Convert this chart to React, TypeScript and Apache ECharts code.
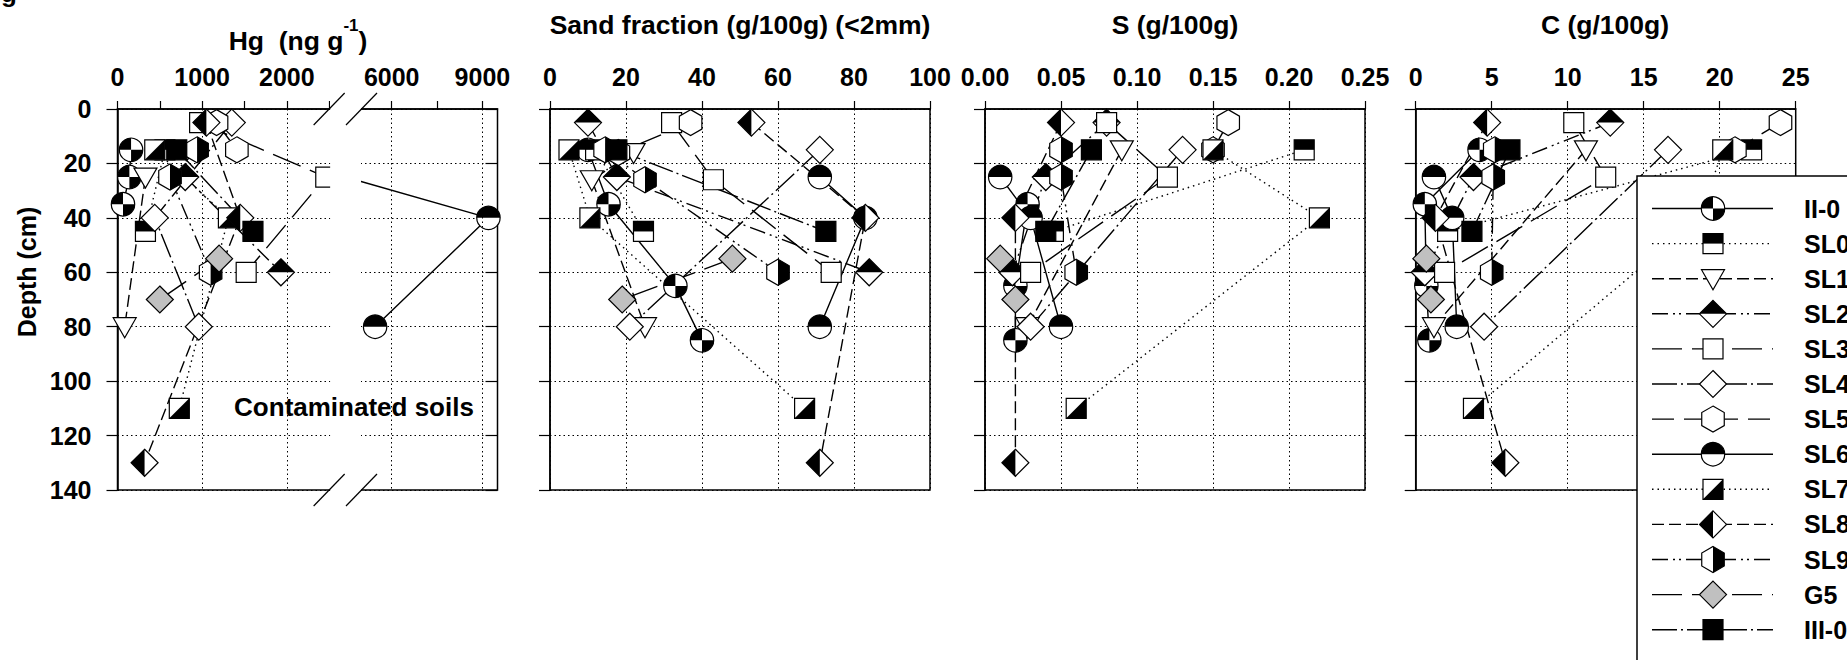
import React, { useEffect, useRef } from "react";
import * as echarts from "echarts";

// ---------------- data ----------------
const seriesNames = ["II-0", "SL0", "SL1", "SL2", "SL3", "SL4", "SL5", "SL6", "SL7", "SL8", "SL9", "G5", "III-0"];

const depthTicks = [0, 20, 40, 60, 80, 100, 120, 140];
const hgTickValues = [0, 500, 1000, 1500, 2000, 2500, 6000, 7500, 9000];
const hgLabelValues = [0, 1000, 2000, 6000, 9000];
const hgGridValues = [1000, 2000, 6000, 9000];

// [value, depth(cm)]
const hgData: Record<string, number[][]> = {
  "II-0": [[160, 15], [140, 25], [65, 35]],
  SL0: [[560, 15], [330, 45]],
  SL1: [[330, 25], [85, 80]],
  SL2: [[800, 25], [1930, 60]],
  SL3: [[970, 5], [2460, 25], [1520, 60]],
  SL4: [[1350, 5], [440, 40], [960, 80]],
  SL5: [[1170, 5], [1410, 15]],
  SL6: [[3750, 25], [9200, 40], [5450, 80]],
  SL7: [[440, 15], [1310, 40], [730, 110]],
  SL8: [[1050, 5], [1450, 40], [320, 130]],
  SL9: [[940, 15], [620, 25], [1100, 60]],
  G5: [[1200, 55], [500, 70]],
  "III-0": [[700, 15], [1600, 45]],
};

const sandData: Record<string, number[][]> = {
  "II-0": [[10, 15], [15.4, 35], [33, 65], [40, 85]],
  SL0: [[12, 15], [24.6, 45]],
  SL1: [[22, 16], [11, 26], [25, 80]],
  SL2: [[10, 5], [17.6, 25], [84, 60]],
  SL3: [[32, 5], [43, 26], [74, 60]],
  SL4: [[71, 15], [21, 80]],
  SL5: [[37, 5], [18, 16]],
  SL6: [[71, 25], [83, 40], [71, 80]],
  SL7: [[5, 15], [10.5, 40], [67, 110]],
  SL8: [[53, 5], [83, 40], [71, 130]],
  SL9: [[14.5, 15], [25, 26], [60, 60]],
  G5: [[48, 55], [19, 70]],
  "III-0": [[17.6, 15], [72.6, 45]],
};

const sulfurData: Record<string, number[][]> = {
  "II-0": [[0.028, 35], [0.02, 65], [0.02, 85]],
  SL0: [[0.21, 15], [0.045, 45]],
  SL1: [[0.09, 15], [0.028, 80]],
  SL2: [[0.08, 5], [0.04, 25], [0.018, 60]],
  SL3: [[0.08, 5], [0.12, 25], [0.03, 60]],
  SL4: [[0.13, 15], [0.03, 80]],
  SL5: [[0.16, 5], [0.15, 15]],
  SL6: [[0.01, 25], [0.03, 40], [0.05, 80]],
  SL7: [[0.15, 15], [0.22, 40], [0.06, 110]],
  SL8: [[0.05, 5], [0.02, 40], [0.02, 130]],
  SL9: [[0.05, 15], [0.05, 25], [0.06, 60]],
  G5: [[0.01, 55], [0.02, 70]],
  "III-0": [[0.07, 15], [0.04, 45]],
};

const carbonData: Record<string, number[][]> = {
  "II-0": [[4.2, 15], [0.6, 35], [0.7, 65], [0.9, 85]],
  SL0: [[22.1, 15], [2.1, 45]],
  SL1: [[11.2, 15], [1.2, 80]],
  SL2: [[12.8, 5], [3.8, 25], [0.6, 60]],
  SL3: [[10.4, 5], [12.5, 25], [1.9, 60]],
  SL4: [[16.6, 15], [4.5, 80]],
  SL5: [[24, 5], [21, 15]],
  SL6: [[1.2, 25], [2.4, 40], [2.7, 80]],
  SL7: [[20.2, 15], [18.7, 40], [3.8, 110]],
  SL8: [[4.7, 5], [1.3, 40], [5.9, 130]],
  SL9: [[5.2, 15], [5.1, 25], [5, 60]],
  G5: [[0.7, 55], [1, 70]],
  "III-0": [[6.2, 15], [3.7, 45]],
};

// ---------------- styles ----------------
const FONT = '"Liberation Sans", Arial, Helvetica, sans-serif';
const seriesStyle: Record<string, { marker: string; dash: number[] | "solid" }> = {
  "II-0": { marker: "quarterCircle", dash: "solid" },
  SL0: { marker: "squareTop", dash: [1.5, 4] },
  SL1: { marker: "triangleDown", dash: [12, 5] },
  SL2: { marker: "diamondTop", dash: [16, 5, 2, 4, 2, 5] },
  SL3: { marker: "square", dash: [30, 10] },
  SL4: { marker: "diamond", dash: [25, 4, 2, 4] },
  SL5: { marker: "hexagon", dash: [22, 10] },
  SL6: { marker: "circleTop", dash: "solid" },
  SL7: { marker: "squareDiag", dash: [1.5, 4] },
  SL8: { marker: "diamondLeft", dash: [12, 5] },
  SL9: { marker: "hexRight", dash: [16, 5, 2, 4, 2, 5] },
  G5: { marker: "diamondGray", dash: [30, 10] },
  "III-0": { marker: "squareFill", dash: [25, 4, 2, 4] },
};

// broken Hg axis: 0-2500 linear, 2500-5000 hidden gap, 5000-9500 compressed
const HG_GAP = 382;
const HG_RATIO = 0.357;
function T(v: number): number {
  if (v <= 2500) return v;
  if (v <= 5000) return 2500 + ((v - 2500) / 2500) * HG_GAP;
  return 2500 + HG_GAP + (v - 5000) * HG_RATIO;
}
const HG_MAX = T(9500);

const panelLefts = [117.5, 550, 985, 1415.7];
const panelW = 380;
const gridTop = 109;
const gridH = 381;

function markerEls(kind: string, cx: number, cy: number): any[] {
  const K = "#000";
  const W = "#fff";
  const lw = 1.2;
  const filled = (type: string, shape: any, fill: string) => ({ type, shape, style: { fill, lineWidth: 0 } });
  const outline = (type: string, shape: any) => ({ type, shape, style: { fill: "transparent", stroke: K, lineWidth: lw } });
  const r = 11.7;
  const h = 10;
  const d = 13.5;
  const hx = 13;
  const sq = { x: cx - h, y: cy - h, width: 2 * h, height: 2 * h };
  const dia = [[cx, cy - d], [cx + d, cy], [cx, cy + d], [cx - d, cy]];
  const hexP = [0, 1, 2, 3, 4, 5].map((i) => {
    const a = ((-90 + 60 * i) * Math.PI) / 180;
    return [cx + hx * Math.cos(a), cy + hx * Math.sin(a)];
  });
  switch (kind) {
    case "quarterCircle":
      return [
        filled("circle", { cx, cy, r }, W),
        filled("sector", { cx, cy, r, r0: 0, startAngle: Math.PI, endAngle: Math.PI * 1.5, clockwise: true }, K),
        filled("sector", { cx, cy, r, r0: 0, startAngle: 0, endAngle: Math.PI * 0.5, clockwise: true }, K),
        outline("circle", { cx, cy, r }),
      ];
    case "circleTop":
      return [
        filled("circle", { cx, cy, r }, W),
        filled("sector", { cx, cy, r, r0: 0, startAngle: Math.PI, endAngle: Math.PI * 2, clockwise: true }, K),
        outline("circle", { cx, cy, r }),
      ];
    case "squareTop":
      return [filled("rect", sq, W), filled("rect", { x: cx - h, y: cy - h, width: 2 * h, height: h }, K), outline("rect", sq)];
    case "squareDiag":
      return [
        filled("rect", sq, W),
        filled("polygon", { points: [[cx + h, cy - h], [cx + h, cy + h], [cx - h, cy + h]] }, K),
        outline("rect", sq),
      ];
    case "square":
      return [filled("rect", sq, W), outline("rect", sq)];
    case "squareFill":
      return [filled("rect", sq, K), outline("rect", sq)];
    case "triangleDown": {
      const t = [[cx - 11.5, cy - 9], [cx + 11.5, cy - 9], [cx, cy + 11]];
      return [filled("polygon", { points: t }, W), outline("polygon", { points: t })];
    }
    case "diamond":
      return [filled("polygon", { points: dia }, W), outline("polygon", { points: dia })];
    case "diamondGray":
      return [filled("polygon", { points: dia }, "#c0c0c0"), outline("polygon", { points: dia })];
    case "diamondTop":
      return [
        filled("polygon", { points: dia }, W),
        filled("polygon", { points: [[cx - d, cy], [cx, cy - d], [cx + d, cy]] }, K),
        outline("polygon", { points: dia }),
      ];
    case "diamondLeft":
      return [
        filled("polygon", { points: dia }, W),
        filled("polygon", { points: [[cx, cy - d], [cx - d, cy], [cx, cy + d]] }, K),
        outline("polygon", { points: dia }),
      ];
    case "hexagon":
      return [filled("polygon", { points: hexP }, W), outline("polygon", { points: hexP })];
    case "hexRight":
      return [
        filled("polygon", { points: hexP }, W),
        filled("polygon", { points: [[cx, cy - hx], hexP[1], hexP[2], [cx, cy + hx]] }, K),
        outline("polygon", { points: hexP }),
      ];
    default:
      return [];
  }
}

function buildOption(): any {
  const black = "#000";
  const dotted = { color: black, width: 1, type: [1.5, 3] as number[] };
  const panels = [
    { data: hgData, map: T },
    { data: sandData, map: (v: number) => v },
    { data: sulfurData, map: (v: number) => v },
    { data: carbonData, map: (v: number) => v },
  ];

  const grid = panelLefts.map((left) => ({
    left,
    top: gridTop,
    width: panelW,
    height: gridH,
    show: true,
    borderColor: black,
    borderWidth: 1.5,
    backgroundColor: "transparent",
  }));

  const labelStyle = { color: black, fontSize: 25, fontWeight: "bold", fontFamily: FONT };
  const axisLineStyle = { show: true, lineStyle: { color: black, width: 1.5 } };
  const xMargin = 19.5;

  const xAxis: any[] = [
    {
      type: "value",
      gridIndex: 0,
      position: "top",
      min: 0,
      max: HG_MAX,
      axisLine: axisLineStyle,
      axisTick: { show: true, customValues: hgTickValues.map(T), length: 8, lineStyle: { color: black, width: 1.2 } },
      axisLabel: {
        ...labelStyle,
        margin: xMargin,
        customValues: hgLabelValues.map(T),
        formatter: (v: number) => {
          const f = hgLabelValues.find((l) => Math.abs(T(l) - v) < 0.5);
          return f === undefined ? "" : String(f);
        },
      },
      splitLine: { show: false },
    },
    { max: 100, interval: 20, fmt: (v: number) => String(v) },
    { max: 0.25, interval: 0.05, fmt: (v: number) => v.toFixed(2) },
    { max: 25, interval: 5, fmt: (v: number) => String(v) },
  ].map((a: any, i: number) => {
    if (i === 0) return a;
    return {
      type: "value",
      gridIndex: i,
      position: "top",
      min: 0,
      max: a.max,
      interval: a.interval,
      axisLine: axisLineStyle,
      axisTick: { show: true, length: 8, lineStyle: { color: black, width: 1.2 } },
      axisLabel: { ...labelStyle, margin: xMargin, formatter: a.fmt },
      splitLine: { show: true, lineStyle: dotted },
    };
  });

  const yAxis: any[] = panelLefts.map((_, i) => ({
    type: "value",
    gridIndex: i,
    inverse: true,
    min: 0,
    max: 140,
    interval: 20,
    axisLine: axisLineStyle,
    axisTick: { show: true, inside: false, length: 11, lineStyle: { color: black, width: 1.2 } },
    axisLabel: { show: i === 0, ...labelStyle, margin: 26, formatter: (v: number) => (depthTicks.includes(v) ? String(v) : "") },
    splitLine: { show: true, lineStyle: dotted },
  }));
  yAxis.push({
    type: "value",
    gridIndex: 0,
    position: "right",
    inverse: true,
    min: 0,
    max: 140,
    interval: 20,
    axisLine: { show: false },
    axisTick: { show: true, inside: true, length: 12, lineStyle: { color: black, width: 1.2 } },
    axisLabel: { show: false },
    splitLine: { show: false },
  });

  const lineSeries: any[] = [];
  const markerSeries: any[] = [];
  panels.forEach((pn, pi) => {
    seriesNames.forEach((name, si) => {
      const pts = pn.data[name].map(([x, y]) => [pn.map(x), y]);
      const st = seriesStyle[name];
      const ls: any = {
        type: "line",
        name,
        xAxisIndex: pi,
        yAxisIndex: pi,
        data: pts,
        symbol: "none",
        silent: true,
        z: 2,
        lineStyle: { color: black, width: 1.4, type: st.dash },
      };
      if (pi === 0 && si === 0) {
        ls.markLine = {
          silent: true,
          symbol: ["none", "none"],
          label: { show: false },
          lineStyle: dotted,
          data: hgGridValues.map((v) => ({ xAxis: T(v) })),
        };
      }
      lineSeries.push(ls);
      markerSeries.push({
        type: "custom",
        name: name + "-m",
        xAxisIndex: pi,
        yAxisIndex: pi,
        data: pts,
        z: 3,
        silent: true,
        renderItem: (params: any, api: any) => {
          const p = api.coord([api.value(0), api.value(1)]);
          return { type: "group", children: markerEls(st.marker, p[0], p[1]) };
        },
      });
    });
  });

  // graphic elements
  const titleStyle = { fill: black, fontSize: 26.5, fontWeight: "bold", fontFamily: FONT, align: "center", verticalAlign: "middle" };
  const graphic: any[] = [
    {
      type: "text",
      x: 1,
      y: 6,
      z: 100,
      style: { text: "g", fill: black, fontSize: 26, fontWeight: "bold", fontFamily: FONT, align: "left", verticalAlign: "bottom" },
    },
    {
      type: "text",
      x: 298,
      y: 41,
      z: 100,
      style: {
        text: "{a|Hg  (ng g}{s|-1}{a|)}",
        align: "center",
        verticalAlign: "middle",
        fill: black,
        rich: {
          a: { fontSize: 26.5, fontWeight: "bold", fontFamily: FONT, lineHeight: 48, fill: black },
          s: { fontSize: 17, fontWeight: "bold", fontFamily: FONT, lineHeight: 17, verticalAlign: "top", fill: black },
        },
      },
    },
    { type: "text", x: 740, y: 25, z: 100, style: { ...titleStyle, text: "Sand fraction (g/100g) (<2mm)" } },
    { type: "text", x: 1175, y: 25, z: 100, style: { ...titleStyle, text: "S (g/100g)" } },
    { type: "text", x: 1605, y: 25, z: 100, style: { ...titleStyle, text: "C (g/100g)" } },
    {
      type: "text",
      x: 27,
      y: 272,
      rotation: Math.PI / 2,
      z: 100,
      style: { ...titleStyle, fontSize: 25, text: "Depth (cm)" },
    },
  ];

  // axis break for Hg panel
  const pxPerT = panelW / HG_MAX;
  const brkL = panelLefts[0] + 2500 * pxPerT;
  const brkR = panelLefts[0] + (2500 + HG_GAP) * pxPerT;
  graphic.push({
    type: "rect",
    z: 100,
    shape: { x: brkL + 1, y: gridTop - 14, width: brkR - brkL - 1.5, height: gridH + 28 },
    style: { fill: "#fff", lineWidth: 0 },
  });
  [gridTop, gridTop + gridH].forEach((ay) => {
    [brkL, brkR].forEach((cx) => {
      graphic.push({
        type: "line",
        z: 101,
        shape: { x1: cx - 15.5, y1: ay + 16, x2: cx + 15.5, y2: ay - 16 },
        style: { stroke: black, lineWidth: 1.2 },
      });
    });
  });
  graphic.push({
    type: "text",
    x: 354,
    y: 407,
    z: 105,
    style: { ...titleStyle, fontSize: 26, text: "Contaminated soils" },
  });

  // legend
  const lgX = 1637;
  const lgTop = 176;
  graphic.push({
    type: "rect",
    z: 110,
    shape: { x: lgX, y: lgTop, width: 300, height: 560 },
    style: { fill: "#fff", stroke: black, lineWidth: 1.5 },
  });
  seriesNames.forEach((name, i) => {
    const y = 208.5 + i * 35.1;
    const st = seriesStyle[name];
    graphic.push({
      type: "line",
      z: 111,
      shape: { x1: 1652, y1: y, x2: 1773, y2: y },
      style: { stroke: black, lineWidth: 1.4, lineDash: st.dash === "solid" ? null : st.dash },
    });
    graphic.push({
      type: "group",
      z: 112,
      children: markerEls(st.marker, 1713, y).map((c) => ({ ...c, z: 112 })),
    });
    graphic.push({
      type: "text",
      x: 1804,
      y,
      z: 113,
      style: { text: name, fill: black, fontSize: 25, fontWeight: "bold", fontFamily: FONT, align: "left", verticalAlign: "middle" },
    });
  });

  return {
    animation: false,
    backgroundColor: "#fff",
    grid,
    xAxis,
    yAxis,
    series: [...lineSeries, ...markerSeries],
    graphic,
  };
}

export default function App() {
  const ref = useRef<HTMLDivElement>(null);
  useEffect(() => {
    if (!ref.current) return;
    const chart = echarts.init(ref.current, null, { renderer: "svg" });
    chart.setOption(buildOption());
    return () => chart.dispose();
  }, []);
  return <div ref={ref} style={{ position: "absolute", left: 0, top: 0, width: 1847, height: 660, background: "#fff" }} />;
}
